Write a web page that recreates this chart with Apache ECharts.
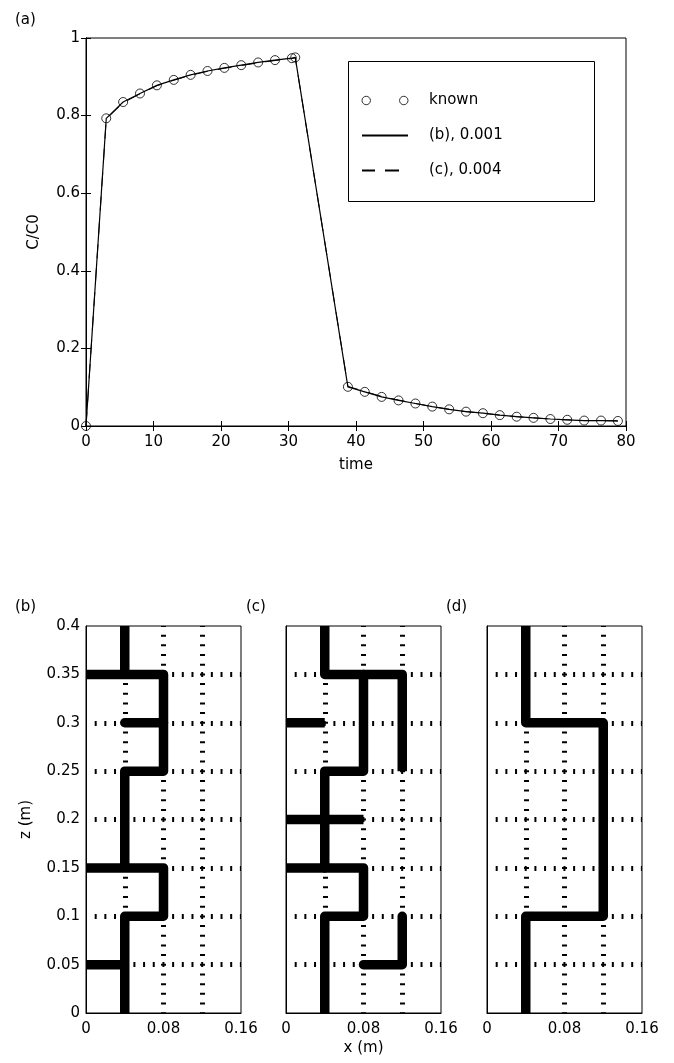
<!DOCTYPE html>
<html>
<head>
<meta charset="utf-8">
<script src="https://cdn.jsdelivr.net/npm/echarts@6/dist/echarts.min.js"></script>
<style>
  html, body { margin: 0; padding: 0; background: #fff; }
  #chart { width: 674px; height: 1063px; }
</style>
</head>
<body>
<div id="chart"></div>
<script>
// (a) breakthrough curve
const knownTime = [0, 3, 5.5, 8, 10.5, 13, 15.5, 18, 20.5, 23, 25.5, 28, 30.5, 31,
  38.8, 41.3, 43.8, 46.3, 48.8, 51.3, 53.8, 56.3, 58.8, 61.3, 63.8, 66.3, 68.8, 71.3, 73.8, 76.3, 78.8]
const knownConc = [0, 0.793, 0.835, 0.857, 0.878, 0.892, 0.905, 0.915, 0.923, 0.930, 0.937, 0.943, 0.948, 0.950,
  0.101, 0.088, 0.075, 0.066, 0.058, 0.050, 0.043, 0.037, 0.033, 0.028, 0.024, 0.021, 0.018, 0.016, 0.014, 0.014, 0.013]
const fitB = [0, 0.793, 0.835, 0.857, 0.878, 0.892, 0.905, 0.915, 0.923, 0.930, 0.937, 0.943, 0.948, 0.950,
  0.101, 0.088, 0.075, 0.066, 0.058, 0.050, 0.043, 0.037, 0.033, 0.028, 0.024, 0.021, 0.018, 0.016, 0.014, 0.014, 0.013]
const fitC = [0, 0.791, 0.833, 0.856, 0.877, 0.891, 0.904, 0.914, 0.922, 0.929, 0.936, 0.942, 0.947, 0.949,
  0.102, 0.089, 0.076, 0.067, 0.058, 0.050, 0.043, 0.037, 0.033, 0.028, 0.024, 0.021, 0.018, 0.016, 0.014, 0.014, 0.013]
const timeTicks = { min: 0, max: 80, interval: 10 }
const concTicks = { min: 0, max: 1, interval: 0.2 }

// (b)(c)(d) pipe networks, each path is a list of [x, z]
const pipesB = [
  [[0.04, 0], [0.04, 0.1], [0.08, 0.1], [0.08, 0.15], [0, 0.15]],
  [[0.04, 0.15], [0.04, 0.25], [0.08, 0.25], [0.08, 0.35], [0, 0.35]],
  [[0.04, 0.3], [0.08, 0.3]],
  [[0.04, 0.35], [0.04, 0.4]],
  [[0, 0.05], [0.04, 0.05]]
]
const pipesC = [
  [[0.04, 0.4], [0.04, 0.35], [0.12, 0.35], [0.12, 0.25]],
  [[0.08, 0.35], [0.08, 0.25], [0.04, 0.25], [0.04, 0.15]],
  [[0, 0.3], [0.04, 0.3]],
  [[0, 0.2], [0.08, 0.2]],
  [[0, 0.15], [0.08, 0.15], [0.08, 0.1], [0.04, 0.1], [0.04, 0]],
  [[0.08, 0.05], [0.12, 0.05], [0.12, 0.1]]
]
const pipesD = [
  [[0.04, 0.4], [0.04, 0.3], [0.12, 0.3], [0.12, 0.1], [0.04, 0.1], [0.04, 0]]
]
const panelNames = ['(b)', '(c)', '(d)']
const panelLeft = [86, 286, 487]
const panelTitleLeft = [10, 241, 441]

const FONT = 'DejaVu Sans'
const txt = { color: '#000', fontFamily: FONT, fontSize: 15 }
const dotted = { color: '#000', width: 5, type: [2, 7.68], dashOffset: 1 }
const blackLine = { lineStyle: { color: '#000' } }
const inTick = { inside: true, length: 5, lineStyle: { color: '#000' } }

const chart = echarts.init(document.getElementById('chart'), null, { renderer: 'canvas' })

function zip(xs, ys) {
  return xs.map(function (x, i) { return [x, ys[i]] })
}

// round ends only when no end of the path touches the box
function onEdge(p) {
  return p[0] <= 0 || p[0] >= 0.16 || p[1] <= 0 || p[1] >= 0.4
}

const grids = [{ left: 86, top: 38, width: 540, height: 388, show: true, borderColor: '#000', borderWidth: 1 }]
const xAxes = [
  {
    gridIndex: 0, type: 'value', position: 'bottom', ...timeTicks,
    name: 'time', nameLocation: 'middle', nameGap: 32, nameTextStyle: txt,
    axisLine: blackLine, axisTick: inTick,
    axisLabel: { ...txt, margin: 9 },
    splitLine: { show: false }
  },
  {
    gridIndex: 0, type: 'value', position: 'top', ...timeTicks,
    axisLine: blackLine, axisTick: inTick,
    axisLabel: { show: false },
    splitLine: { show: false }
  }
]
const yAxes = [
  {
    gridIndex: 0, type: 'value', position: 'left', ...concTicks,
    name: 'C/C0', nameLocation: 'middle', nameGap: 44, nameTextStyle: txt,
    axisLine: blackLine, axisTick: inTick,
    axisLabel: { ...txt, margin: 6 },
    splitLine: { show: false }
  },
  {
    gridIndex: 0, type: 'value', position: 'right', ...concTicks,
    axisLine: blackLine, axisTick: inTick,
    axisLabel: { show: false },
    splitLine: { show: false }
  }
]

const series = [
  {
    name: 'known', type: 'scatter', xAxisIndex: 0, yAxisIndex: 0,
    data: zip(knownTime, knownConc),
    symbol: 'circle', symbolSize: 9,
    itemStyle: { color: 'rgba(255,255,255,0)', borderColor: '#000', borderWidth: 1 },
    z: 3
  },
  {
    name: '(c), 0.004', type: 'line', xAxisIndex: 0, yAxisIndex: 0,
    data: zip(knownTime, fitC), symbol: 'none',
    itemStyle: { color: '#000' },
    lineStyle: { color: '#000', width: 1, type: [14, 10] }, z: 4
  },
  {
    name: '(b), 0.001', type: 'line', xAxisIndex: 0, yAxisIndex: 0,
    data: zip(knownTime, fitB), symbol: 'none',
    itemStyle: { color: '#000' },
    lineStyle: { color: '#000', width: 1.2 }, z: 5
  }
]

const titles = [{ text: '(a)', left: 10, top: 8, textStyle: { ...txt, fontWeight: 'normal' } }]
const pipeSets = [pipesB, pipesC, pipesD]

pipeSets.forEach(function (pipes, k) {
  const gi = k + 1
  grids.push({ left: panelLeft[k], top: 626, width: 155, height: 387, show: true, borderColor: '#000', borderWidth: 1 })
  titles.push({ text: panelNames[k], left: panelTitleLeft[k], top: 595, textStyle: { ...txt, fontWeight: 'normal' } })
  xAxes.push({
    gridIndex: gi, type: 'value', min: 0, max: 0.16, interval: 0.04,
    name: k === 1 ? 'x (m)' : '', nameLocation: 'middle', nameGap: 28, nameTextStyle: txt,
    axisLine: blackLine,
    axisTick: { show: false },
    axisLabel: {
      ...txt, margin: 9,
      formatter: function (v) { return Math.round(v * 100) % 8 === 0 ? String(+v.toFixed(2)) : '' }
    },
    splitLine: { show: true, showMinLine: false, showMaxLine: false, lineStyle: dotted }
  })
  yAxes.push({
    gridIndex: gi, type: 'value', min: 0, max: 0.4, interval: 0.05,
    name: k === 0 ? 'z (m)' : '', nameLocation: 'middle', nameGap: 52, nameTextStyle: txt,
    axisLine: blackLine,
    axisTick: { show: false },
    axisLabel: { ...txt, margin: 6, show: k === 0 },
    splitLine: { show: true, showMinLine: false, showMaxLine: false, lineStyle: dotted }
  })
  pipes.forEach(function (path) {
    const touches = onEdge(path[0]) || onEdge(path[path.length - 1])
    series.push({
      type: 'line', xAxisIndex: gi + 1, yAxisIndex: gi + 1,
      data: path, symbol: 'none', silent: true,
      lineStyle: { color: '#000', width: 9.5, cap: touches ? 'butt' : 'round', join: 'round' },
      z: 5
    })
  })
})

chart.setOption({
  animation: false,
  backgroundColor: '#fff',
  title: titles,
  grid: grids,
  xAxis: xAxes,
  yAxis: yAxes,
  legend: {
    orient: 'vertical', left: 356, top: 88, itemWidth: 46, itemHeight: 14, itemGap: 20,
    textStyle: { ...txt, padding: [0, 0, 0, 16] },
    data: [
      {
        name: 'known',
        icon: 'path://M0,4.5a4.5,4.5 0 1,0 9,0a4.5,4.5 0 1,0 -9,0M40,4.5a4.5,4.5 0 1,0 9,0a4.5,4.5 0 1,0 -9,0',
        itemStyle: { color: 'rgba(255,255,255,0)', borderColor: '#000', borderWidth: 1 }
      },
      { name: '(b), 0.001', itemStyle: { opacity: 0 } },
      { name: '(c), 0.004', itemStyle: { opacity: 0 } }
    ]
  },
  graphic: [{
    type: 'rect', left: 348, top: 61, z: 1,
    shape: { width: 246, height: 140 },
    style: { fill: '#fff', stroke: '#000', lineWidth: 1 }
  }],
  series: series
})
</script>
</body>
</html>
